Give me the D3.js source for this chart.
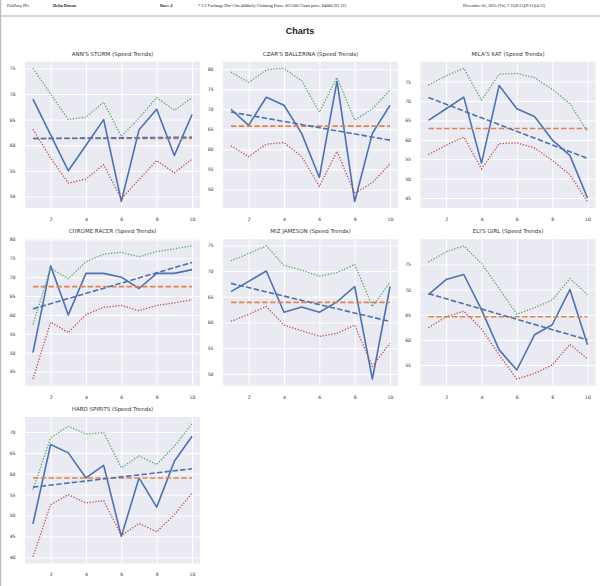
<!DOCTYPE html>
<html>
<head>
<meta charset="utf-8">
<script src="https://cdn.jsdelivr.net/npm/d3@7"></script>
<style>
  body { margin: 0; background: #fff; }
  svg { display: block; }
</style>
</head>
<body>
<div id="page"></div>
<script>
// speed figure trends, one panel per horse, last 10 races
const horses = ["ANN'S STORM", "CZAR'S BALLERINA", "MILA'S KAT", "CHROME RACER", "MIZ JAMESON", "ELI'S GIRL", "HARD SPIRITS"]
const races = [1, 2, 3, 4, 5, 6, 7, 8, 9, 10]

const speedFigs = [
  [69, 62, 55, 60, 65, 49, 63, 67, 58, 66],
  [70, 66, 73, 71, 64, 53, 77, 47, 64, 71],
  [65, 68, 71, 54, 74, 68, 66, 60, 56, 45],
  [50, 73, 60, 71, 71, 70, 67, 71, 71, 72],
  [66, 68, 70, 62, 63, 62, 64, 67, 49, 67],
  [69, 72, 73, 66, 58, 54, 61, 63, 70, 59],
  [48, 67, 65, 59, 62, 45, 59, 52, 63, 69]
]
const upperBand = [
  [75, 70, 65, 65.5, 68.4, 61.7, 65.3, 69.3, 66.8, 69.3],
  [79.3, 76.7, 79.8, 80.2, 77.1, 69.3, 77.9, 67.3, 70.1, 74.8],
  [74.1, 76.5, 78.4, 70.2, 76.9, 77.1, 76.0, 73.0, 69.3, 62.1],
  [57.5, 72.4, 69.6, 74.1, 76.1, 76.6, 75.4, 76.8, 77.5, 78.3],
  [72, 73.4, 74.9, 71.1, 70.2, 69, 69.7, 71.3, 63.1, 67.8],
  [75.5, 77.5, 78.7, 75.2, 70.2, 65.1, 66.4, 67.9, 72.2, 69],
  [56.2, 68.6, 71.4, 69.5, 69.9, 61.4, 64.3, 62.2, 66.6, 72]
]
const lowerBand = [
  [63.1, 57.5, 52.6, 53.4, 56.2, 49.5, 53.3, 57.0, 54.6, 57.3],
  [60.9, 58.2, 61.3, 61.7, 58.2, 50.8, 59.5, 49, 51.7, 56.4],
  [56.2, 58.6, 60.7, 52.5, 59.0, 59.2, 57.9, 54.7, 51.0, 44.1],
  [43.0, 58.1, 55.3, 60.1, 62.0, 62.5, 61.1, 62.5, 63.2, 64.0],
  [60.2, 61.6, 63.1, 59.5, 58.4, 57.3, 57.9, 59.5, 51.5, 56],
  [62.4, 64.6, 65.7, 62.2, 57.0, 52.2, 53.3, 55, 59.1, 56.2],
  [40.1, 52.6, 55, 53, 53.6, 45.2, 48.1, 46.1, 50.2, 55.4]
]
const avgSpeed = [61.3, 65.8, 62.9, 67.5, 63.9, 64.6, 59.0]
const trendStart = [61.3, 69.3, 70.9, 61.6, 67.6, 69.2, 56.8]
const trendEnd = [61.55, 62.3, 55.2, 73.9, 60.2, 60.0, 61.2]

const yTicks = [
  [50, 55, 60, 65, 70, 75],
  [50, 55, 60, 65, 70, 75, 80],
  [45, 50, 55, 60, 65, 70, 75],
  [45, 50, 55, 60, 65, 70, 75, 80],
  [50, 55, 60, 65, 70, 75],
  [55, 60, 65, 70, 75],
  [40, 45, 50, 55, 60, 65, 70]
]
const xTicks = [2, 4, 6, 8, 10]

const headerTexts = [
  { text: "PickPony PPs", x: 7, bold: false, size: 3.9 },
  { text: "Delta Downs", x: 53, bold: true, size: 4.3 },
  { text: "Race 4", x: 160, bold: true, size: 4.3 },
  { text: "7 1/2 Furlongs Dirt Clm 4000n2y Claiming Purse: $11500 Claim price: $4000 (91.22)", x: 198, bold: false, size: 4.3 },
  { text: "December 05, 2025 (Fri) 7:11(8:11)(9:11)(4:11)", x: 463, bold: false, size: 4.3 }
]

const W = 600, H = 586
const colX = [25, 223, 420.5]
const rowY = [61.7, 239.2, 417]
const plotW = 175, plotH = 146.5

const palette = { speed: "#4C72B0", avg: "#DD8452", upper: "#55A868", lower: "#C44E52", bg: "#EAEAF2", ink: "#333" }
const tickFont = "'DejaVu Sans', sans-serif"

const svg = d3.select("#page").append("svg")
  .attr("width", W)
  .attr("height", H)

// page chrome
svg.append("rect").attr("width", W).attr("height", H).attr("fill", "#fff")
svg.append("line")
  .attr("x1", 0).attr("x2", W).attr("y1", 16).attr("y2", 16)
  .attr("stroke", "#aaa").attr("stroke-width", 1)
svg.append("line")
  .attr("x1", 0.6).attr("x2", 0.6).attr("y1", 0).attr("y2", H)
  .attr("stroke", "#bbb").attr("stroke-width", 1.2)

svg.selectAll(".hdr")
  .data(headerTexts)
  .enter().append("text")
  .attr("class", "hdr")
  .attr("x", d => d.x)
  .attr("y", 7)
  .attr("font-family", "'Liberation Serif', serif")
  .attr("font-size", d => d.size)
  .attr("font-weight", d => d.bold ? "bold" : "normal")
  .attr("fill", "#222")
  .text(d => d.text)

svg.append("text")
  .attr("x", W / 2)
  .attr("y", 34)
  .attr("text-anchor", "middle")
  .attr("font-family", "'Liberation Sans', Arial, sans-serif")
  .attr("font-weight", "bold")
  .attr("font-size", 9)
  .attr("fill", "#222")
  .text("Charts")

const x = d3.scaleLinear()
  .domain([races[0] - 0.45, races[races.length - 1] + 0.45])
  .range([0, plotW])

horses.forEach((name, i) => {
  const left = colX[i % 3], top = rowY[Math.floor(i / 3)]
  const allVals = speedFigs[i].concat(upperBand[i], lowerBand[i], [avgSpeed[i], trendStart[i], trendEnd[i]])
  const [lo, hi] = d3.extent(allVals)
  const pad = (hi - lo) * 0.05
  const y = d3.scaleLinear().domain([lo - pad, hi + pad]).range([plotH, 0])

  const g = svg.append("g").attr("transform", `translate(${left},${top})`)

  g.append("rect")
    .attr("width", plotW).attr("height", plotH)
    .attr("fill", palette.bg)

  // grid + tick labels via d3 axes
  const xAxis = g.append("g")
    .attr("transform", `translate(0,${plotH})`)
    .call(d3.axisBottom(x).tickValues(xTicks).tickSize(-plotH).tickPadding(9.6))
  const yAxis = g.append("g")
    .call(d3.axisLeft(y).tickValues(yTicks[i]).tickSize(-plotW).tickPadding(9.5))

  ;[xAxis, yAxis].forEach(ax => {
    ax.select(".domain").remove()
    ax.selectAll(".tick line").attr("stroke", "#fff").attr("stroke-width", 1)
    ax.selectAll(".tick text")
      .attr("fill", palette.ink)
      .attr("font-family", tickFont)
      .attr("font-size", 4.6)
  })

  const line = d3.line().x((d, k) => x(races[k])).y(d => y(d))
  const first = races[0], last = races[races.length - 1]

  g.append("path")
    .datum(speedFigs[i])
    .attr("d", line)
    .attr("fill", "none")
    .attr("stroke", palette.speed)
    .attr("stroke-width", 1.6)
    .attr("stroke-linejoin", "round")

  g.append("line")
    .attr("x1", x(first)).attr("x2", x(last))
    .attr("y1", y(avgSpeed[i])).attr("y2", y(avgSpeed[i]))
    .attr("stroke", palette.avg)
    .attr("stroke-width", 1.6)
    .attr("stroke-dasharray", "5.5,2.3")

  ;[[upperBand[i], palette.upper], [lowerBand[i], palette.lower]].forEach(([vals, c]) => {
    g.append("path")
      .datum(vals)
      .attr("d", line)
      .attr("fill", "none")
      .attr("stroke", c)
      .attr("stroke-width", 1.3)
      .attr("stroke-dasharray", "1.3,1.6")
  })

  g.append("line")
    .attr("x1", x(first)).attr("x2", x(last))
    .attr("y1", y(trendStart[i])).attr("y2", y(trendEnd[i]))
    .attr("stroke", palette.speed)
    .attr("stroke-width", 1.6)
    .attr("stroke-dasharray", "5.5,2.3")

  g.append("text")
    .attr("x", plotW / 2)
    .attr("y", -5.8)
    .attr("text-anchor", "middle")
    .attr("font-family", tickFont)
    .attr("font-size", 5.5)
    .attr("fill", palette.ink)
    .text(`${name} (Speed Trends)`)
})
</script>
</body>
</html>
